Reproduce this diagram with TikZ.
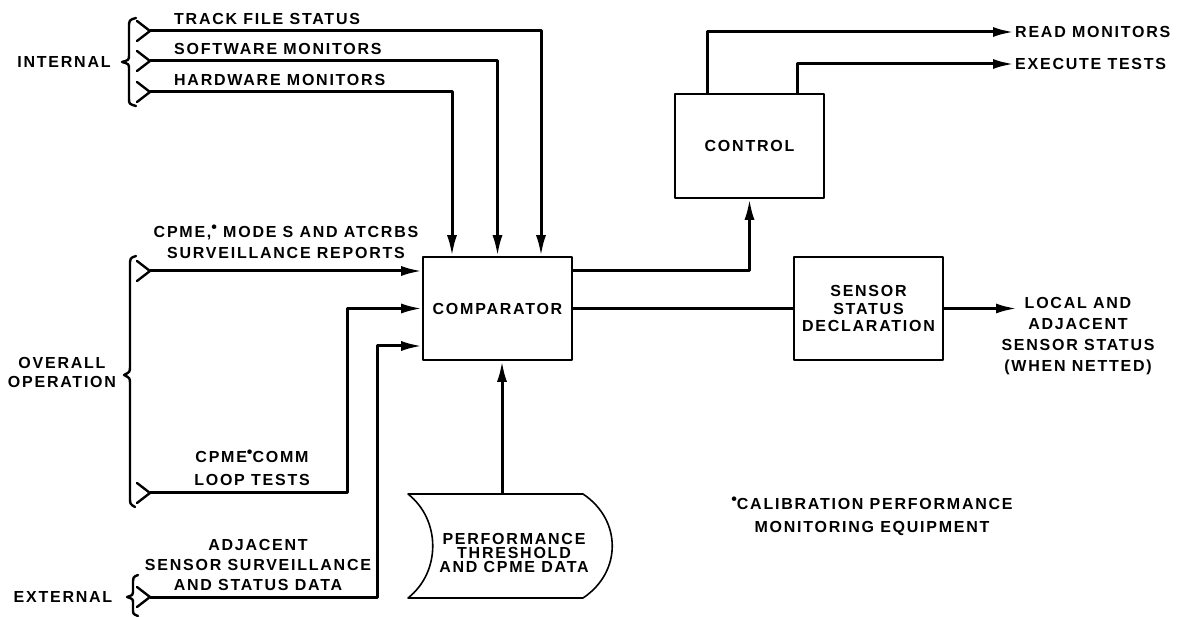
\documentclass[tikz,border=0pt]{standalone}
\usepackage{fontspec}
\setmainfont{Liberation Sans}[LetterSpace=11]
\usepackage{tikz}
\usetikzlibrary{positioning}
\usetikzlibrary{arrows.meta}
\tikzset{>={Latex[width=10pt,length=21pt]}}
\newcommand{\fn}{\raisebox{5pt}{\fontsize{16}{16}\selectfont\textbullet}}

\begin{document}
\begin{tikzpicture}[x=1pt, y=-1pt, line join=round,
    box/.style={rectangle, draw=black, line width=1.6pt, minimum width=149pt, minimum height=103pt, font=\bfseries\fontsize{16}{17.5}\selectfont, align=center},
    lbl/.style={draw=none, inner sep=1pt, font=\bfseries\fontsize{16}{21}\selectfont, align=center},
    flow/.style={line width=3pt},
    brace/.style={line width=2.4pt, line cap=round}]

    \useasboundingbox (0,0) rectangle (1192,617);

    %Nodes
    \node[box](comp) at (497.5,308.5){COMPARATOR};
    \node[box, minimum height=104pt](ctrl) at (749.5,146){CONTROL};
    \node[box](ssd) at (868.5,308.5){SENSOR\\STATUS\\DECLARATION};
    \node[lbl, font=\bfseries\fontsize{16}{14}\selectfont](perf) at (514,553){PERFORMANCE\\THRESHOLD\\AND CPME DATA};

    \node[lbl](internal) at (64,62){INTERNAL};
    \node[lbl, font=\bfseries\fontsize{16}{19}\selectfont](overall) at (62,372){OVERALL\\OPERATION};
    \node[lbl](external) at (63,597){EXTERNAL};

    \node[lbl, anchor=west](trk_text) at (173,19){TRACK FILE STATUS};
    \node[lbl, anchor=west](sw_text) at (173,49){SOFTWARE MONITORS};
    \node[lbl, anchor=west](hw_text) at (173,80){HARDWARE MONITORS};
    \node[lbl](surv_text) at (286,242){CPME,\fn\ MODE S AND ATCRBS\\SURVEILLANCE REPORTS};
    \node[lbl, font=\bfseries\fontsize{16}{23}\selectfont](comm_text) at (252,468){CPME\fn COMM\\LOOP TESTS};
    \node[lbl, font=\bfseries\fontsize{16}{20}\selectfont](adj_text) at (258,565){ADJACENT\\SENSOR SURVEILLANCE\\AND STATUS DATA};

    \node[lbl, anchor=west](read) at (1014,32){READ MONITORS};
    \node[lbl, anchor=west](exec) at (1014,64){EXECUTE TESTS};
    \node[lbl](local) at (1078,336){LOCAL AND\\ADJACENT\\SENSOR STATUS\\(WHEN NETTED)};
    \node[lbl, font=\bfseries\fontsize{16}{23}\selectfont](note) at (872,516){\fn CALIBRATION PERFORMANCE\\MONITORING EQUIPMENT};

    %Points
    \coordinate (trk) at (150,31);
    \coordinate (sw) at (150,61);
    \coordinate (hw) at (150,92);
    \coordinate (surv) at (150,271);
    \coordinate (comm) at (150,493);
    \coordinate (adj) at (150,597);
    \coordinate (local_in) at (1017,308.5);
    \coordinate (perftop) at ([shift={(-12,-59)}]perf.center);

    %Data store outline
    \draw[line width=1.6pt] ([shift={(-106,-59)}]perf.center) -- ([shift={(69,-59)}]perf.center)
        .. controls ([shift={(108,-33)}]perf.center) and ([shift={(108,19)}]perf.center) .. ([shift={(69,45)}]perf.center)
        -- ([shift={(-106,45)}]perf.center)
        .. controls ([shift={(-73,19)}]perf.center) and ([shift={(-73,-33)}]perf.center) .. cycle;

    %Braces
    \draw[brace] (136,18) .. controls (129,20) .. (129,28) -- (129,55) .. controls (129,60) .. (122,62)
        .. controls (129,64) .. (129,69) -- (129,98) .. controls (129,104) .. (136,106);
    \draw[brace] (136,256) .. controls (130,258) .. (130,266) -- (130,366) .. controls (130,372) .. (124,375)
        .. controls (130,378) .. (130,384) -- (130,498) .. controls (130,504) .. (135,507);
    \draw[brace] (138,575) .. controls (133,577) .. (133,585) -- (133,592) .. controls (133,595) .. (127,597)
        .. controls (133,599) .. (133,603) -- (133,609) .. controls (133,614) .. (138,616);
    \foreach \p in {trk, sw, hw, surv, comm, adj}
        \draw[brace] ([shift={(-13,-10)}]\p) -- (\p) -- ([shift={(-13,10)}]\p);

    %Lines
    \draw[flow, ->] (trk) -| ([xshift=43.5pt]comp.north);
    \draw[flow, ->] (sw) -| (comp.north);
    \draw[flow, ->] (hw) -| ([xshift=-45.5pt]comp.north);
    \draw[flow, ->] (surv) -- (surv -| comp.west);
    \draw[flow, ->] (comm) -| ([xshift=-75pt]comp.west) -- (comp.west);
    \draw[flow, ->] (adj) -| ([xshift=-45pt, yshift=-37.5pt]comp.west) -- ([yshift=-37.5pt]comp.west);
    \draw[flow, ->] (perftop) -- (perftop |- comp.south);
    \draw[flow, ->] ([yshift=37.5pt]comp.east) -| (ctrl.south);
    \draw[flow] (comp.east) -- (ssd.west);
    \draw[flow, ->] (ssd.east) -- (local_in);
    \draw[flow, ->] ([xshift=-42.5pt]ctrl.north) |- (read.west);
    \draw[flow, ->] ([xshift=47.5pt]ctrl.north) |- (exec.west);

\end{tikzpicture}
\end{document}
